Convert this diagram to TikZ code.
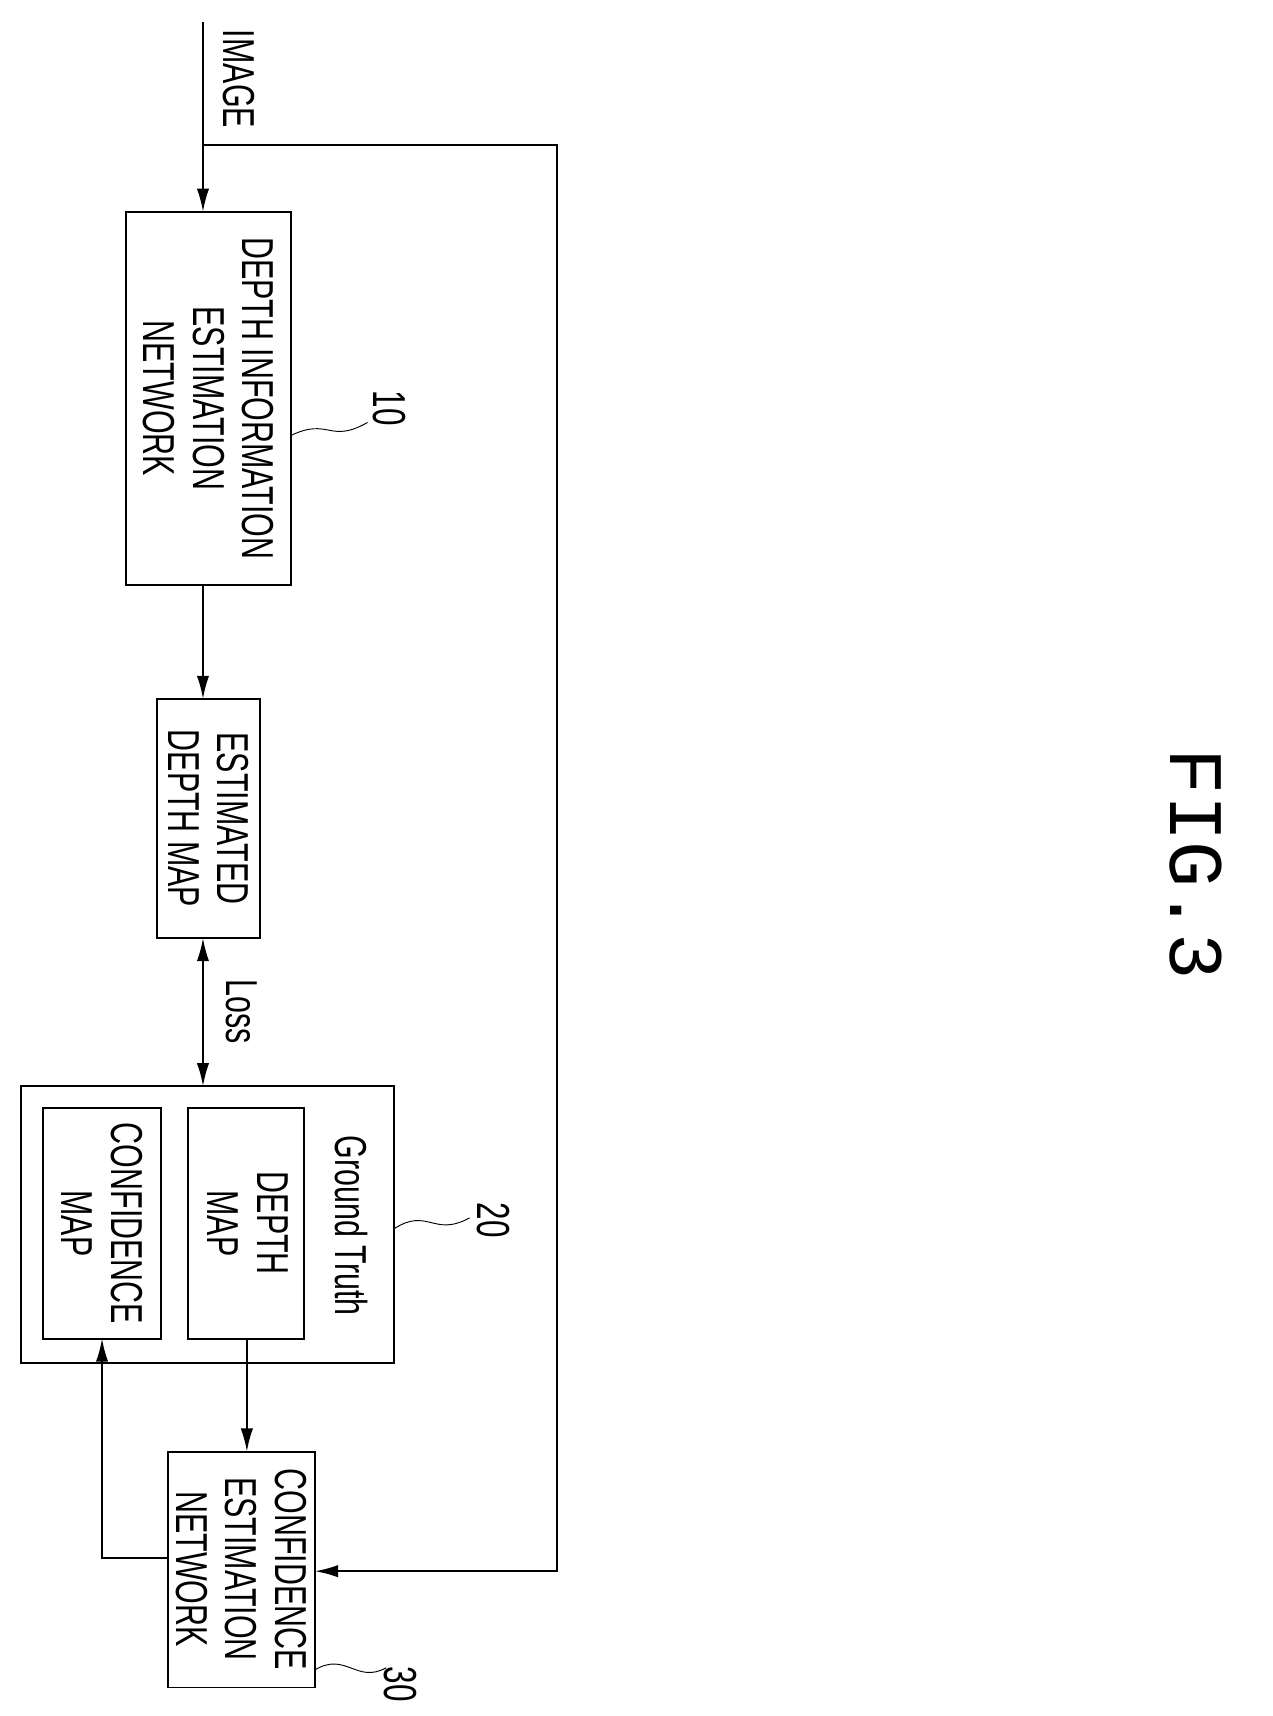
\documentclass[tikz,border=0pt]{standalone}
\usepackage{fontspec}
\setmainfont{Liberation Sans}
\newfontfamily\figfont{Liberation Mono}
\usetikzlibrary{arrows.meta}
\newcommand{\cn}[1]{\scalebox{0.68}[1]{#1}}
\begin{document}
\begin{tikzpicture}[x=0.05cm,y=-0.05cm,line width=2.4pt,
  box/.style={draw,minimum width=0,inner sep=0},
  txt/.style={rotate=-90,align=center,font=\fontsize{58}{64}\selectfont},
  arr/.style={-{Latex[length=30pt,width=16pt]}},
  lab/.style={rotate=-90,font=\fontsize{60}{64}\selectfont}]
\useasboundingbox (0,0) rectangle (1160,1564);
% boxes
\draw (115,193) rectangle (265,533);
\node[txt] (t10) at (190,363) {\cn{DEPTH INFORMATION}\\\cn{ESTIMATION}\\\cn{NETWORK}};
\coordinate (b10t) at (185,193); \coordinate (b10b) at (185,533);
\draw (143,637) rectangle (237,855);
\node[txt] (tedm) at (190,746) {\cn{ESTIMATED}\\\cn{DEPTH MAP}};
\coordinate (edmt) at (185,637); \coordinate (edmb) at (185,855);
\draw (19,990) rectangle (359,1242);
\node[txt] (tgt) at (320,1117) {\cn{Ground Truth}};
\coordinate (gtt) at (185,990);
\draw (171,1010) rectangle (277,1220);
\node[txt] (tdm) at (226,1115) {\cn{DEPTH}\\\cn{MAP}};
\coordinate (dmb) at (225,1220);
\draw (39,1010) rectangle (147,1220);
\node[txt] (tcm) at (93,1115) {\cn{CONFIDENCE}\\\cn{MAP}};
\coordinate (cmb) at (93,1220);
\draw (153,1323) rectangle (287,1538);
\node[txt] (t30) at (220,1430) {\cn{CONFIDENCE}\\\cn{ESTIMATION}\\\cn{NETWORK}};
\coordinate (b30t) at (225,1323); \coordinate (b30r) at (287,1432); \coordinate (b30l) at (153,1420);
% connectors
\coordinate (in) at (185,20);
\coordinate (sp) at (185,132);
\node[lab,font=\fontsize{58}{64}\selectfont] (image) at (218,72) {\cn{IMAGE}};
\draw[arr] (in) -- (b10t);
\draw[arr] (sp) -- (508,132) -- (508,1432) -- (b30r);
\draw[arr] (b10b) -- (edmt);
\draw[{Latex[length=30pt,width=16pt]}-{Latex[length=30pt,width=16pt]}] (edmb) -- (gtt);
\node[lab,font=\fontsize{58}{64}\selectfont] (loss) at (220,922) {\cn{Loss}};
\draw[arr] (dmb) -- (b30t);
\draw[arr] (b30l) -- (93,1420) -- (cmb);
% reference labels
\node[lab] (l10) at (355,372) {\cn{10}};
\draw[line width=1.2pt] (265,397) .. controls (300,380) and (300,405) .. (335,385);
\node[lab] (l20) at (450,1112) {\cn{20}};
\draw[line width=1.2pt] (359,1120) .. controls (390,1100) and (395,1128) .. (428,1110);
\node[lab] (l30) at (365,1535) {\cn{30}};
\draw[line width=1.2pt] (287,1522) .. controls (315,1505) and (325,1535) .. (352,1520);
\node[rotate=-90,font=\figfont\fontsize{100}{110}\selectfont] (fig) at (1090,788) {FIG.3};
\end{tikzpicture}
\end{document}
